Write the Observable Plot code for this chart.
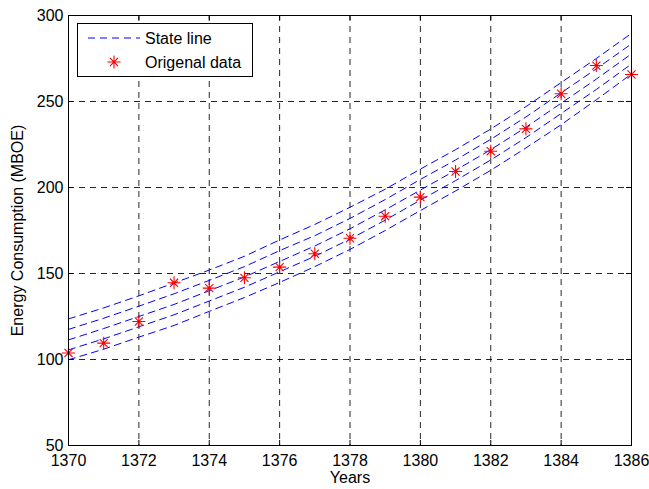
<!DOCTYPE html>
<html><head><meta charset="utf-8">
<script src="https://cdn.jsdelivr.net/npm/d3@7"></script>
<script src="https://cdn.jsdelivr.net/npm/@observablehq/plot@0.6"></script>
<style>
html,body{margin:0;padding:0;background:#fff;}
#chart{position:relative;width:649px;height:489px;}
</style></head><body><div id="chart"></div>
<script>
const years = [1370,1371,1372,1373,1374,1375,1376,1377,1378,1379,1380,1381,1382,1383,1384,1385,1386];
const stateLine1 = [123.6,130,137,144.5,152,160,169.5,178.5,188.5,199,210.7,222,234,247,261,275,289.6];
const stateLine2 = [117.5,124,131,138.2,146,154,163.3,172,182,193,204.7,216,228,241,255,269,283.5];
const stateLine3 = [111.4,118,125,132,140,148,157,166,176,187,198.5,210,222,235,249,263,277.7];
const stateLine4 = [105.6,112,119,126,134,142,151,160,170,181,192.7,204,216,229,243,257,271.8];
const stateLine5 = [99.8,106,113,119.8,128,136,144.8,154,164,175,186.6,198,210,223,236.5,251,266];
const originalData = [103.8,109.5,122.1,144.6,141.5,147.5,153.7,161.5,170.5,183.3,194.4,209.3,221.1,234.1,254.5,270.9,265.7];
const xTicks = [1370,1372,1374,1376,1378,1380,1382,1384,1386];
const yTicks = [50,100,150,200,250,300];
const legendLabels = ["State line","Origenal data"];
const xLabel = "Years";
const yLabel = "Energy Consumption (MBOE)";

const series = [stateLine1,stateLine2,stateLine3,stateLine4,stateLine5];
const lineData = series.flatMap((vals,i)=>vals.map((v,j)=>({year:years[j],value:v,line:i})));
const pointData = years.map((y,i)=>({year:y,value:originalData[i]}));

const asterisk = {draw(ctx,size){
  const r = Math.sqrt(size/Math.PI), d = r*0.62;
  ctx.moveTo(-r,0); ctx.lineTo(r,0);
  ctx.moveTo(0,-r); ctx.lineTo(0,r);
  ctx.moveTo(-d,-d); ctx.lineTo(d,d);
  ctx.moveTo(-d,d); ctx.lineTo(d,-d);
}};

const W=649,H=489,mL=68,mR=18,mT=15,mB=44;
const fw=W-mL-mR, fh=H-mT-mB;
const font="'Liberation Sans', Arial, Helvetica, sans-serif";

const plot = Plot.plot({
  width:W,height:H,marginLeft:mL,marginRight:mR,marginTop:mT,marginBottom:mB,
  style:{fontFamily:font,fontSize:"16px",color:"#000",background:"#fff",overflow:"visible"},
  x:{domain:[1370,1386],label:null},
  y:{domain:[50,300],label:null},
  marks:[
    Plot.gridX(xTicks.slice(1,-1),{stroke:"#000",strokeOpacity:0.85,strokeDasharray:"6,5"}),
    Plot.gridY(yTicks.slice(1,-1),{stroke:"#000",strokeOpacity:0.85,strokeDasharray:"6,5"}),
    Plot.line(lineData,{x:"year",y:"value",z:"line",stroke:"#0000ff",strokeWidth:1,strokeDasharray:"7,5"}),
    Plot.dot(pointData,{x:"year",y:"value",symbol:asterisk,r:6.5,stroke:"#ff0000",fill:"none",strokeWidth:1.1}),
    Plot.tickX(xTicks,{x:d=>d,insetTop:fh-5,stroke:"#000"}),
    Plot.tickX(xTicks,{x:d=>d,insetBottom:fh-5,stroke:"#000"}),
    Plot.tickY(yTicks,{y:d=>d,insetRight:fw-5,stroke:"#000"}),
    Plot.tickY(yTicks,{y:d=>d,insetLeft:fw-5,stroke:"#000"}),
    Plot.axisX(xTicks,{tickSize:0,tickPadding:9,tickFormat:"d",label:null}),
    Plot.axisY(yTicks,{tickSize:0,tickPadding:5,tickFormat:"d",label:null}),
    Plot.frame({stroke:"#000",strokeWidth:1}),
    Plot.text([yLabel],{frameAnchor:"left",rotate:-90,dx:-51,textAnchor:"middle",lineAnchor:"middle",fontSize:16}),
    Plot.text([xLabel],{frameAnchor:"bottom",dy:32.5,textAnchor:"middle",lineAnchor:"middle",fontSize:16})
  ]
});
document.getElementById("chart").appendChild(plot);

// legend
const svg = d3.select(plot);
const g = svg.append("g").attr("font-family",font).attr("font-size",16).attr("fill","#000").attr("text-anchor","start");
g.append("rect").attr("x",77.5).attr("y",23.5).attr("width",175).attr("height",53)
  .attr("fill","#fff").attr("stroke","#000").attr("stroke-width",1);
g.append("line").attr("x1",88).attr("x2",140).attr("y1",38).attr("y2",38)
  .attr("stroke","#0000ff").attr("stroke-width",1).attr("stroke-dasharray","7,5");
g.append("text").attr("x",145).attr("y",38).attr("dy","0.35em").attr("text-anchor","start").text(legendLabels[0]);
const sp = d3.path(); asterisk.draw(sp, 6.5*6.5*Math.PI);
g.append("path").attr("transform","translate(114,62)").attr("d",sp.toString())
  .attr("stroke","#ff0000").attr("fill","none").attr("stroke-width",1.1);
g.append("text").attr("x",145).attr("y",62.5).attr("dy","0.35em").attr("text-anchor","start").text(legendLabels[1]);
</script></body></html>
